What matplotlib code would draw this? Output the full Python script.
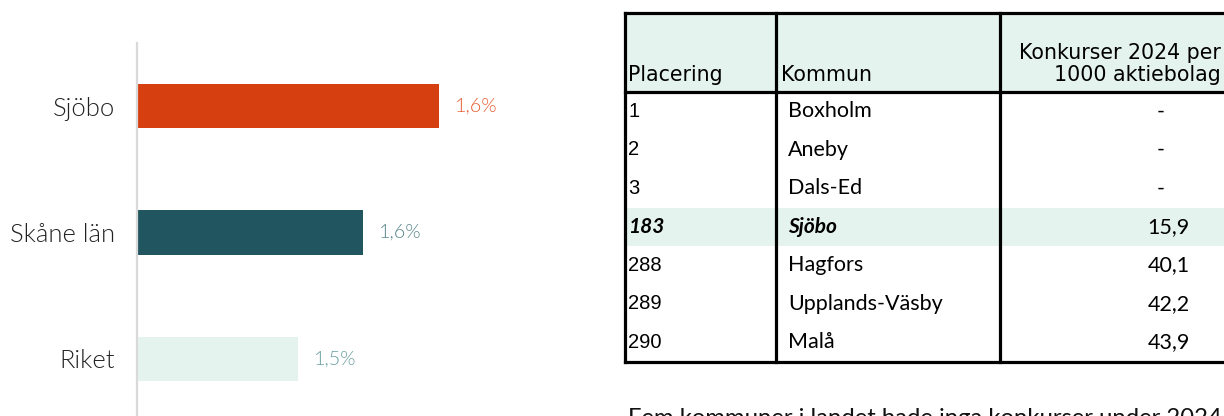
import matplotlib
matplotlib.use("Agg")
import matplotlib.pyplot as plt
from matplotlib.patches import Rectangle
from matplotlib import font_manager
from matplotlib.font_manager import FontProperties

# ---------------- data ----------------
bar_categories = ["Sjöbo", "Skåne län", "Riket"]
bar_values = [1.63, 1.56, 1.50]          # andel (%), shown rounded to one decimal
bar_colors = ["#d63f10", "#215660", "#e5f3ef"]
label_colors = ["#e65f35", "#5a878c", "#6a9ea0"]

table_header = ["Placering", "Kommun", "Konkurser 2024 per\n1000 aktiebolag"]
table_rank = ["1", "2", "3", "183", "288", "289", "290"]
table_kommun = ["Boxholm", "Aneby", "Dals-Ed", "Sjöbo", "Hagfors", "Upplands-Väsby", "Malå"]
table_value = [None, None, None, 15.9, 40.1, 42.2, 43.9]
highlight_row = 3

footer_text = "Fem kommuner i landet hade inga konkurser under 2024"


def find_font(family, weight, style="normal"):
    cands = [f for f in font_manager.fontManager.ttflist if f.name == family and f.style == style]
    if not cands:
        return FontProperties(family="DejaVu Sans")

    def w(f):
        ww = f.weight
        if isinstance(ww, str):
            ww = font_manager.weight_dict.get(ww, 400)
        return ww
    best = min(cands, key=lambda f: abs(w(f) - weight))
    return FontProperties(fname=best.fname)


def fp(base, size):
    p = base.copy()
    p.set_size(size)
    return p


lato_light = find_font("Lato", 300)
lato_reg = find_font("Lato", 400)
lato_bi = find_font("Lato", 700, "italic")

# ---------------- figure ----------------
W, H = 1224, 416
fig = plt.figure(figsize=(W / 100, H / 100), dpi=100)
fig.patch.set_facecolor("white")

# ---- bar chart ----
ax_left, ax_right = 137, 560
ax_top, ax_bottom = 43, 422
ax = fig.add_axes([ax_left / W, 1 - ax_bottom / H, (ax_right - ax_left) / W, (ax_bottom - ax_top) / H])
x0 = 1.352
xmax = x0 + (ax_right - ax_left) * 0.00092
ypos = list(range(len(bar_categories)))
ax.barh(ypos, [v - x0 for v in bar_values], left=x0, height=0.35, color=bar_colors)
ax.set_xlim(x0, xmax)
ax.set_ylim(2.5, -0.5)
for s in ["top", "right", "bottom"]:
    ax.spines[s].set_visible(False)
ax.spines["left"].set_color("#d9d9d9")
ax.spines["left"].set_linewidth(1.6)
ax.set_xticks([])
ax.set_yticks(ypos)
ax.set_yticklabels(bar_categories, fontproperties=fp(lato_light, 18.4), color="#222222")
ax.tick_params(axis="y", length=0, pad=16)
for y, v, c in zip(ypos, bar_values, label_colors):
    ax.annotate(f"{v:.1f}".replace(".", ",") + "%", xy=(v, y), xytext=(11.5, 0),
                textcoords="offset points", ha="left", va="center",
                fontproperties=fp(lato_light, 14.2), color=c)

# ---- table ----
tx = fig.add_axes([0, 0, 1, 1])
tx.set_xlim(0, W)
tx.set_ylim(H, 0)
tx.axis("off")

t_left, t_right = 624.5, 1250
col_x = [624.5, 776, 1000]
t_top, head_bot = 12.5, 92
row_h = 38.5
n = len(table_rank)
t_bot = head_bot + n * row_h
fill = "#e5f3ef"
lw = 2.3

tx.add_patch(Rectangle((t_left, t_top), t_right - t_left, head_bot - t_top, facecolor=fill, edgecolor="none"))
hy = head_bot + highlight_row * row_h
tx.add_patch(Rectangle((t_left, hy), t_right - t_left, row_h, facecolor=fill, edgecolor="none"))

tx.plot([t_left, t_right], [t_top, t_top], color="black", lw=lw, solid_capstyle="projecting")
tx.plot([t_left, t_right], [head_bot, head_bot], color="black", lw=lw, solid_capstyle="projecting")
tx.plot([t_left, t_right], [t_bot, t_bot], color="black", lw=lw, solid_capstyle="projecting")
for cx in col_x:
    tx.plot([cx, cx], [t_top, t_bot], color="black", lw=lw, solid_capstyle="projecting")

hfont = dict(family="DejaVu Sans", fontsize=14.8, color="black")
tx.text(628, 81, table_header[0], ha="left", va="baseline", **hfont)
tx.text(781, 81, table_header[1], ha="left", va="baseline", **hfont)
tx.text(1221, 81, table_header[2], ha="right", va="baseline", multialignment="right",
        linespacing=1.15, **hfont)

for i in range(n):
    yc = head_bot + (i + 0.5) * row_h
    if i == highlight_row:
        style = fp(lato_bi, 15)
        rstyle = fp(lato_bi, 15)
    else:
        style = fp(lato_reg, 15.5)
        rstyle = FontProperties(family="Liberation Sans", size=14.5)
    tx.text(628, yc, table_rank[i], ha="left", va="center", color="black", fontproperties=rstyle)
    tx.text(788, yc, table_kommun[i], ha="left", va="center", color="black", fontproperties=style)
    v = table_value[i]
    if v is None:
        tx.text(1161, yc, "-", ha="center", va="center", color="black", fontproperties=fp(lato_reg, 15.5))
    else:
        tx.text(1190, yc, f"{v:.1f}".replace(".", ","), ha="right", va="center",
                color="black", fontproperties=fp(lato_reg, 15.5))

tx.text(628, 408, footer_text, ha="left", va="top", color="#111111", fontproperties=fp(lato_reg, 17.2))

fig.savefig("out.png", dpi=100, facecolor="white")
